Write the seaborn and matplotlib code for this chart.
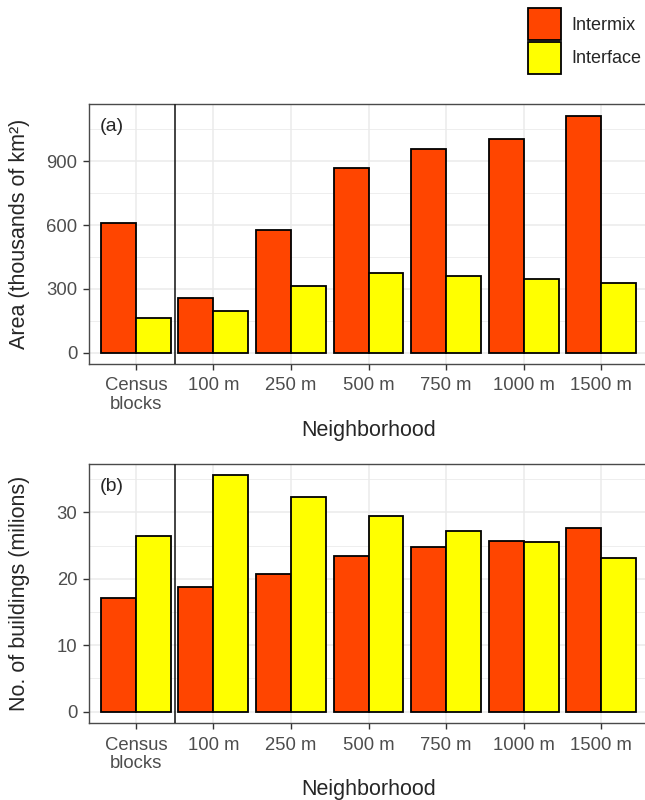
import pandas as pd
import matplotlib
matplotlib.use("Agg")
import matplotlib.pyplot as plt
import seaborn as sns
from matplotlib.patches import Patch
from matplotlib.ticker import MultipleLocator

neighborhoods = ["Census\nblocks", "100 m", "250 m", "500 m", "750 m", "1000 m", "1500 m"]
types = ["Intermix", "Interface"]

area_intermix = [609, 259, 577, 869, 959, 1007, 1114]
area_interface = [162, 198, 315, 375, 362, 345, 328]

bldg_intermix = [17.1, 18.8, 20.7, 23.5, 24.8, 25.7, 27.6]
bldg_interface = [26.4, 35.6, 32.4, 29.4, 27.2, 25.6, 23.2]

colors = {"Intermix": "#FF4500", "Interface": "#FFFF00"}

sns.set_style("white")
plt.rcParams["font.family"] = ["Liberation Sans", "DejaVu Sans"]


def long_df(intermix, interface):
    return pd.DataFrame({
        "Neighborhood": neighborhoods * 2,
        "type": ["Intermix"] * len(neighborhoods) + ["Interface"] * len(neighborhoods),
        "value": list(intermix) + list(interface),
    })


fig = plt.figure(figsize=(6.45, 8), dpi=100)
ax_a = fig.add_axes([0.1384, 0.545, 0.866, 0.3246])
ax_b = fig.add_axes([0.1384, 0.0959, 0.866, 0.3241])

panels = [
    (ax_a, long_df(area_intermix, area_interface), "Area (thousands of km²)", "(a)",
     (-53, 1168), 300, 150),
    (ax_b, long_df(bldg_intermix, bldg_interface), "No. of buildings (milions)", "(b)",
     (-1.75, 37.3), 10, 5),
]

for ax, df, ylab, tag, ylim, major, minor in panels:
    sns.barplot(data=df, x="Neighborhood", y="value", hue="type",
                hue_order=types, order=neighborhoods, palette=colors,
                saturation=1, width=0.9, errorbar=None, edgecolor="black",
                linewidth=1.3, legend=False, ax=ax, zorder=3)
    ax.set_xlim(-0.6, 6.6)
    ax.set_ylim(*ylim)
    ax.yaxis.set_major_locator(MultipleLocator(major))
    ax.yaxis.set_minor_locator(MultipleLocator(minor))
    ax.grid(which="major", color="#EBEBEB", linewidth=1.1, zorder=0)
    ax.grid(which="minor", axis="y", color="#EBEBEB", linewidth=0.6, zorder=0)
    ax.set_axisbelow(True)
    for s in ax.spines.values():
        s.set_color("#4a4a4a")
        s.set_linewidth(1.0)
    ax.tick_params(axis="both", which="major", length=4.5, width=1.0, color="#333333",
                   labelcolor="#4D4D4D", labelsize=13.3, left=True, bottom=True)
    ax.tick_params(axis="x", which="major", pad=5.2)
    ax.tick_params(axis="y", which="major", pad=4)
    ax.tick_params(axis="both", which="minor", length=0)
    for lbl in ax.get_xticklabels():
        lbl.set_linespacing(1.12)
    ax.axvline(0.5, color="#222222", linewidth=1.2, zorder=4)
    ax.set_ylabel(ylab, fontsize=15.5)
    # both y titles sit at the same distance from the axis, as in the aligned panels
    ax.yaxis.set_label_coords(-0.106, 0.5)
    ax.set_xlabel("Neighborhood", fontsize=15.5, labelpad=5)
    ax.text(0.018, 0.914, tag, transform=ax.transAxes, fontsize=14,
            ha="left", va="center")

handles = [Patch(facecolor=colors[t], edgecolor="black", linewidth=1.3) for t in types]
fig.legend(handles, types, loc="upper left", bbox_to_anchor=(0.818, 0.99),
           frameon=False, fontsize=13, handlelength=1.83, handleheight=2.35,
           labelspacing=0.1, handletextpad=0.6, borderaxespad=0, borderpad=0)

fig.savefig("out.png", dpi=100)
